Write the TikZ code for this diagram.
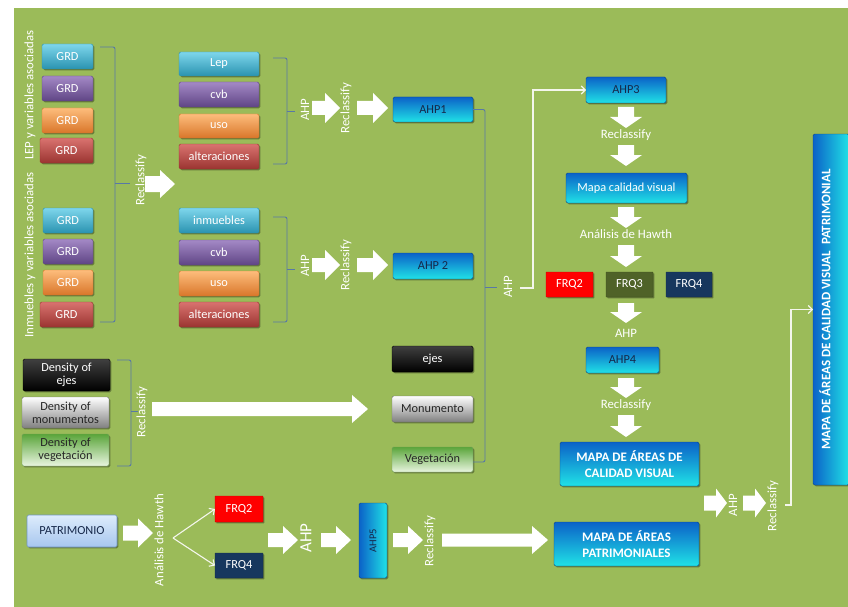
\documentclass[tikz,border=0pt]{standalone}
\usepackage{fontspec}
\setmainfont{Carlito}
\usetikzlibrary{shadows,arrows.meta}
\definecolor{bg}{HTML}{9BBB59}
\definecolor{aquaT}{HTML}{7ED6EC}\definecolor{aquaM}{HTML}{3CB5D4}\definecolor{aquaB}{HTML}{2A93B0}
\definecolor{purT}{HTML}{A489C6}\definecolor{purM}{HTML}{8063A6}\definecolor{purB}{HTML}{5F4585}
\definecolor{oraT}{HTML}{FDBD7C}\definecolor{oraM}{HTML}{F79646}\definecolor{oraB}{HTML}{D9762A}
\definecolor{redT}{HTML}{D9736F}\definecolor{redM}{HTML}{C0504D}\definecolor{redB}{HTML}{9B3431}
\definecolor{bluT}{HTML}{0B62C8}\definecolor{bluB}{HTML}{20E2E6}
\definecolor{navyTxt}{HTML}{16284A}
\definecolor{brkc}{HTML}{5878A6}
\definecolor{lineW}{HTML}{F4F6EC}
\definecolor{frqR}{HTML}{FF0000}\definecolor{frqO}{HTML}{4F6228}\definecolor{frqN}{HTML}{17375E}
\definecolor{vegT}{HTML}{5AA53A}\definecolor{vegM}{HTML}{C5E3AD}\definecolor{vegB}{HTML}{E9F5E0}
\definecolor{vegD}{HTML}{6E9E58}\definecolor{patT}{HTML}{DDECFC}\definecolor{patB}{HTML}{A7C6EE}
\definecolor{patD}{HTML}{6F96C6}
\newcommand\fs{\fontsize{12.3}{13}\selectfont}
\newcommand\fl{\fontsize{12.8}{14}\selectfont}
\newcommand\fsb{\fontsize{13}{15.5}\selectfont\bfseries}
\newcommand\Bx[7]{\node[#6, minimum width={#4-#2}, minimum height={#5-#3}] (#1) at ({(#2+#4)/2},{(#3+#5)/2}) {#7};}
\newcommand\BArR[6]{\fill[barrow] (#1,{#3-#5}) -- ({#2-#6},{#3-#5}) -- ({#2-#6},{#3-#4}) -- (#2,#3) -- ({#2-#6},{#3+#4}) -- ({#2-#6},{#3+#5}) -- (#1,{#3+#5}) -- cycle;}
\newcommand\BArD[6]{\fill[barrow] ({#1-#5},#2) -- ({#1-#5},{#3-#6}) -- ({#1-#4},{#3-#6}) -- (#1,#3) -- ({#1+#4},{#3-#6}) -- ({#1+#5},{#3-#6}) -- ({#1+#5},#2) -- cycle;}
\begin{document}
\begin{tikzpicture}[x=1pt,y=-1pt,
  box/.style={rounded corners=1.5pt, inner sep=0pt, outer sep=0pt, font=\fs, align=center,
     drop shadow={shadow xshift=1.3pt,shadow yshift=-1.3pt,opacity=0.35,fill=black}},
  aqua/.style={box, top color=aquaT, middle color=aquaM, bottom color=aquaB, draw=aquaB, line width=0.4pt, text=white},
  purp/.style={box, top color=purT, middle color=purM, bottom color=purB, draw=purB, line width=0.4pt, text=white},
  oran/.style={box, top color=oraT, middle color=oraM, bottom color=oraB, draw=oraB, line width=0.4pt, text=white},
  redb/.style={box, top color=redT, middle color=redM, bottom color=redB, draw=redB, line width=0.4pt, text=white},
  ahpb/.style={box, top color=bluT, bottom color=bluB, draw=bluT!70!black, line width=0.4pt, text=navyTxt},
  mapb/.style={box, top color=bluT, bottom color=bluB, draw=bluT!70!black, line width=0.4pt, text=white, font=\fsb},
  blkb/.style={box, top color=black!75, middle color=black, bottom color=black, draw=black, line width=0.4pt, text=white},
  grayb/.style={box, top color=white, middle color=black!12, bottom color=black!50, draw=black!55, line width=0.4pt, text=black!85},
  vegb/.style={box, top color=vegT, middle color=vegM, bottom color=vegB, draw=vegD, line width=0.4pt, text=black!85},
  patb/.style={box, top color=patT, bottom color=patB, draw=patD, line width=0.6pt, text=navyTxt},
  frqr/.style={box, rounded corners=0.5pt, fill=frqR, draw=frqR!80!black, line width=0.4pt, text=white},
  frqo/.style={box, rounded corners=0.5pt, fill=frqO, draw=frqO!80!black, line width=0.4pt, text=white},
  frqn/.style={box, rounded corners=0.5pt, fill=frqN, draw=frqN!80!black, line width=0.4pt, text=white},
  barrow/.style={fill=white},
  brk/.style={draw=brkc, line width=0.9pt, rounded corners=2pt},
  wl/.style={draw=lineW, line width=1.1pt, -{Straight Barb[length=4pt,width=8pt]}},
  lbl/.style={text=white, font=\fl, inner sep=0pt},
  vlbl/.style={lbl, rotate=90}]
\useasboundingbox (0,0) rectangle (848,607);
\fill[white] (0,0) rectangle (848,607);
\fill[bg] (14,8) rectangle (848,607);

% left GRD groups
\Bx{g1}{42}{44}{93}{69}{aqua}{GRD}
\Bx{g2}{42}{76}{93}{101}{purp}{GRD}
\Bx{g3}{42}{108}{93}{133}{oran}{GRD}
\Bx{g4}{40}{138}{93}{163}{redb}{GRD}
\Bx{g5}{43}{208}{93}{233}{aqua}{GRD}
\Bx{g6}{43}{239}{93}{264}{purp}{GRD}
\Bx{g7}{43}{270}{93}{295}{oran}{GRD}
\Bx{g8}{40}{302}{93}{327}{redb}{GRD}
\node[vlbl] (lLEP) at (30,95) {LEP y variables asociadas};
\node[vlbl] (lInm) at (30,255) {Inmuebles y variables asociadas};

\draw[brk] (100,47) -- (115,47) -- (115,322) -- (100,322);
\draw[brk] (115,183) -- (130,183);
\node[vlbl] (lRc1) at (141,180) {Reclassify};
\BArR{145}{175}{184}{14}{8}{15}

% middle groups
\Bx{m1}{179}{52}{259}{76}{aqua}{Lep}
\Bx{m2}{179}{82}{259}{107}{purp}{cvb}
\Bx{m3}{179}{114}{259}{138}{oran}{uso}
\Bx{m4}{179}{144}{259}{169}{redb}{alteraciones}
\Bx{m5}{179}{208}{259}{233}{aqua}{inmuebles}
\Bx{m6}{179}{240}{259}{265}{purp}{cvb}
\Bx{m7}{179}{271}{259}{296}{oran}{uso}
\Bx{m8}{179}{302}{259}{327}{redb}{alteraciones}

\draw[brk] (273,58) -- (287,58) -- (287,164) -- (273,164);
\draw[brk] (287,111) -- (295,111);
\draw[brk] (273,217) -- (287,217) -- (287,322) -- (273,322);
\draw[brk] (287,269) -- (295,269);

\node[vlbl] (lA1) at (305,110) {AHP};
\BArR{312}{340}{108}{15}{7}{15}
\node[vlbl] (lR1) at (346,108) {Reclassify};
\BArR{357}{388}{108}{15}{7}{15}
\Bx{ahp1}{393}{97}{473}{122}{ahpb}{AHP1}

\node[vlbl] (lA2) at (305,266) {AHP};
\BArR{312}{340}{265}{15}{7}{15}
\node[vlbl] (lR2) at (346,265) {Reclassify};
\BArR{357}{388}{265}{15}{7}{15}
\Bx{ahp2}{393}{253}{473}{279}{ahpb}{AHP 2}

% density group
\Bx{d1}{23}{359}{110}{391}{blkb}{Density of\\ejes}
\Bx{d2}{22}{397}{109}{428}{grayb}{Density of\\monumentos}
\Bx{d3}{22}{434}{109}{466}{vegb}{Density of\\vegetación}
\draw[brk] (117,360) -- (131,360) -- (131,466) -- (117,466);
\draw[brk] (131,411) -- (138,411);
\node[vlbl] (lRd) at (142,412) {Reclassify};
\BArR{152}{368}{409}{14}{7}{16}
\Bx{ej}{392}{346}{473}{372}{blkb}{ejes}
\Bx{mo}{392}{396}{473}{422}{grayb}{Monumento}
\Bx{ve}{392}{447}{473}{472}{vegb}{Vegetación}

% big bracket to AHP
\draw[brk] (ahp1.east) -- (485,109.5) -- (485,462) -- (ve.east |- 0,462);
\draw[brk] (485,287) -- (497,287);
\node[vlbl] (lA3) at (508,287) {AHP};
\coordinate (c1) at (520,288);

% right column
\Bx{ahp3}{586}{77}{666}{103}{ahpb}{AHP3}
\draw[wl] (c1) -- (533,288) |- (ahp3.west);
\BArD{626}{107}{128}{16}{8}{11}
\node[lbl] (lR3) at (626,135) {Reclassify};
\BArD{626}{145}{166}{16}{8}{11}
\Bx{mcv}{566}{173}{687}{203}{ahpb,text=white}{Mapa calidad visual}
\BArD{626}{207}{228}{16}{8}{11}
\node[lbl] (lHw) at (626,234) {Análisis de Hawth};
\BArD{626}{245}{267}{16}{8}{11}
\Bx{f2}{546}{272}{593}{297}{frqr}{FRQ2}
\Bx{f3}{606}{272}{653}{297}{frqo}{FRQ3}
\Bx{f4}{666}{272}{712}{297}{frqn}{FRQ4}
\BArD{626}{303}{323}{16}{8}{11}
\node[lbl] (lA4) at (626,333) {AHP};
\Bx{ahp4}{586}{347}{659}{373}{ahpb}{AHP4}
\BArD{626}{378}{398}{16}{8}{11}
\node[lbl] (lR4) at (626,405) {Reclassify};
\BArD{626}{415}{437}{16}{8}{11}
\Bx{mapcv}{560}{442}{699}{486}{mapb}{MAPA DE ÁREAS DE\\CALIDAD VISUAL}

% bottom row
\Bx{pat}{27}{515}{117}{547}{patb}{PATRIMONIO}
\BArR{123}{153}{533}{14.5}{7.5}{15}
\node[vlbl] (lHw2) at (159,540) {Análisis de Hawth};
\coordinate (c3) at (173,538);
\Bx{fb2}{215}{496}{263}{522}{frqr}{FRQ2}
\Bx{fb4}{215}{553}{263}{578}{frqn}{FRQ4}
\draw[wl] (c3) -- (fb2.west);
\draw[wl] (c3) -- (fb4.west);
\BArR{268}{298}{540}{14}{7}{15}
\node[vlbl, font=\fontsize{17}{19}\selectfont] (lA5) at (306,538) {AHP};
\BArR{321}{351}{540}{14}{7}{15}
\node[box, left color=bluT, right color=bluB, draw=bluT!70!black, line width=0.4pt, text=navyTxt,
      minimum width=28, minimum height=75, font=\fontsize{10.5}{12}\selectfont] (ahp5) at (373,540.5) {\rotatebox{90}{AHP5}};
\BArR{393}{423}{540}{14}{7}{15}
\node[vlbl] (lR5) at (430,541) {Reclassify};
\BArR{442}{548}{540}{14}{6.5}{16}
\Bx{mappa}{554}{522}{699}{566}{mapb}{MAPA DE ÁREAS\\PATRIMONIALES}

\BArR{704}{727}{503}{14.5}{7.5}{11}
\node[vlbl] (lA6) at (733,505) {AHP};
\BArR{743}{766}{503}{14.5}{7.5}{11}
\node[vlbl] (lR6) at (773,506) {Reclassify};
\coordinate (c2) at (785,505);

\node[box, left color=bluT, right color=bluB, draw=bluT!70!black, line width=0.4pt,
      minimum width=36, minimum height=351] (fin) at (831,309.5) {};
\node[vlbl, font=\fsb] (finT) at (825,309.5) {MAPA DE ÁREAS DE CALIDAD VISUAL\ \ PATRIMONIAL};
\draw[wl] (c2) -- (791,505) |- (fin.west);
\end{tikzpicture}
\end{document}
